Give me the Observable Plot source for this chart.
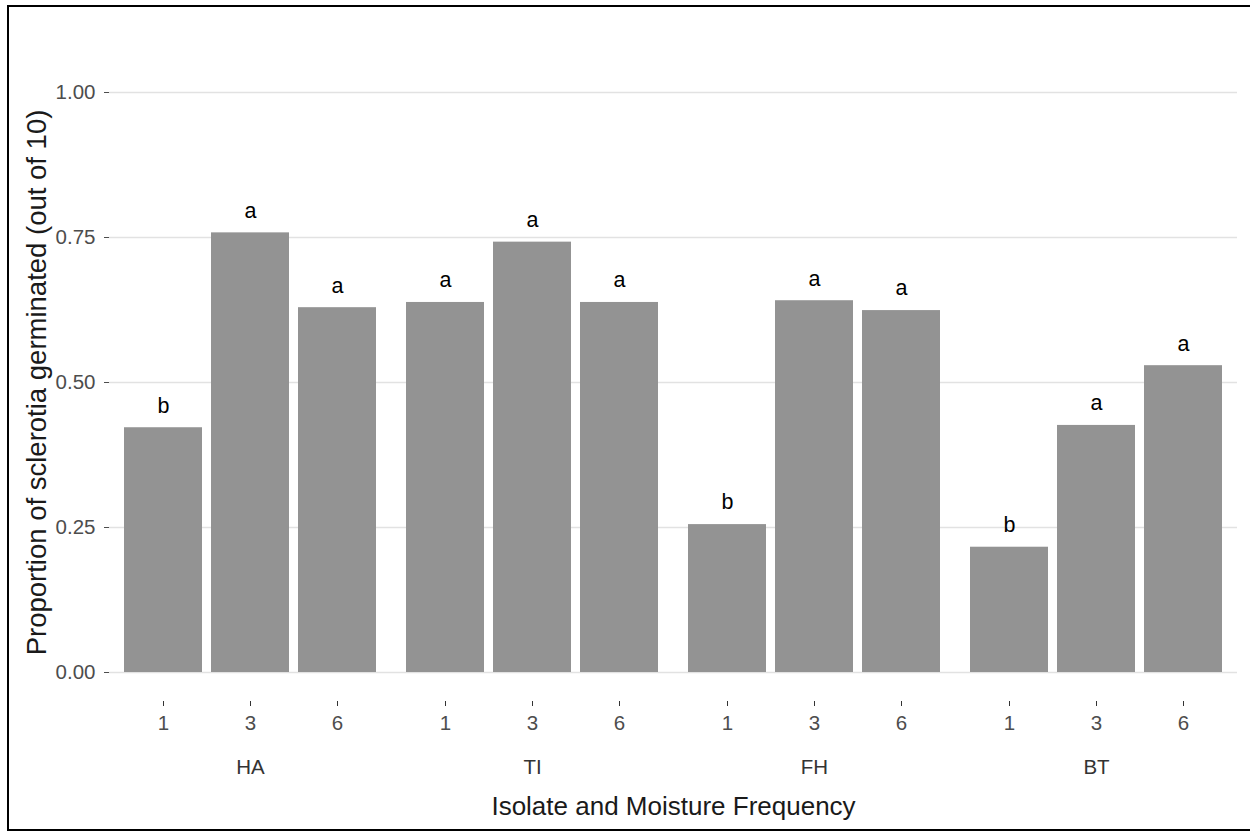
<!DOCTYPE html>
<html><head><meta charset="utf-8">
<script src="https://cdn.jsdelivr.net/npm/d3@7"></script>
<script src="https://cdn.jsdelivr.net/npm/@observablehq/plot@0.6"></script>
<style>
html,body{margin:0;padding:0;background:#fff;}
#wrap{position:relative;width:1250px;height:833px;overflow:hidden;}
#frame{position:absolute;left:7px;top:5px;width:1260px;height:826px;border:2px solid #000;box-sizing:border-box;}
#chart{position:absolute;left:0;top:0;}
</style></head><body>
<div id="wrap"><div id="frame"></div><div id="chart"></div></div>
<script>
const isolates = ["HA", "TI", "FH", "BT"];
const moistureFrequencies = ["1", "3", "6"];
const haValues = [0.422, 0.758, 0.629];
const tiValues = [0.638, 0.742, 0.638];
const fhValues = [0.255, 0.641, 0.624];
const btValues = [0.216, 0.426, 0.529];
const haLetters = ["b", "a", "a"];
const tiLetters = ["a", "a", "a"];
const fhLetters = ["b", "a", "a"];
const btLetters = ["b", "a", "a"];
const yTicks = [0, 0.25, 0.5, 0.75, 1];
const yTitle = "Proportion of sclerotia germinated (out of 10)";
const xTitle = "Isolate and Moisture Frequency";

const valuesBy = {HA: haValues, TI: tiValues, FH: fhValues, BT: btValues};
const lettersBy = {HA: haLetters, TI: tiLetters, FH: fhLetters, BT: btLetters};
const rows = isolates.flatMap(iso => moistureFrequencies.map((m, i) => ({
  isolate: iso, moisture: m, value: valuesBy[iso][i], letter: lettersBy[iso][i]
})));

const font = "'Liberation Sans', Arial, sans-serif";

const chart = Plot.plot({
  width: 1250,
  height: 833,
  marginLeft: 107,
  marginRight: 12,
  marginTop: 63,
  marginBottom: 132,
  style: {fontFamily: font, background: "transparent", overflow: "visible"},
  fx: {domain: isolates, padding: 0},
  x: {domain: moistureFrequencies, paddingInner: 0.1, paddingOuter: 0.16},
  y: {domain: [-0.05, 1.05]},
  marks: [
    Plot.gridY(yTicks, {stroke: "#e2e2e2", strokeOpacity: 1, strokeWidth: 1.4}),
    Plot.barY(rows, {fx: "isolate", x: "moisture", y: "value", fill: "#939393"}),
    Plot.text(rows, {fx: "isolate", x: "moisture", y: "value", text: "letter", dy: -22, fontSize: 21.5, fill: "#000"}),
    Plot.axisY(yTicks, {tickFormat: d3.format(".2f"), tickSize: 5, tickPadding: 9, fontSize: 20.5, fill: "#4d4d4d", stroke: "#4d4d4d", label: null}),
    Plot.axisY([], {label: yTitle, labelArrow: "none", labelAnchor: "center", labelOffset: 83, tickSize: 0, fontSize: 27.5, fill: "#1a1a1a"}),
    Plot.axisX({tickSize: 5, tickPadding: 9, fontSize: 20.5, fill: "#4d4d4d", stroke: "#333", label: null}),
    Plot.axisFx({anchor: "bottom", tickSize: 0, tickPadding: 58, fontSize: 20.5, fill: "#333", label: null}),
    Plot.axisFx({anchor: "bottom", tickSize: 0, tickFormat: () => "", label: xTitle, labelArrow: "none", labelAnchor: "center", labelOffset: 113, fontSize: 26, fill: "#1a1a1a"})
  ]
});
document.getElementById("chart").appendChild(chart);
</script>
</body></html>
